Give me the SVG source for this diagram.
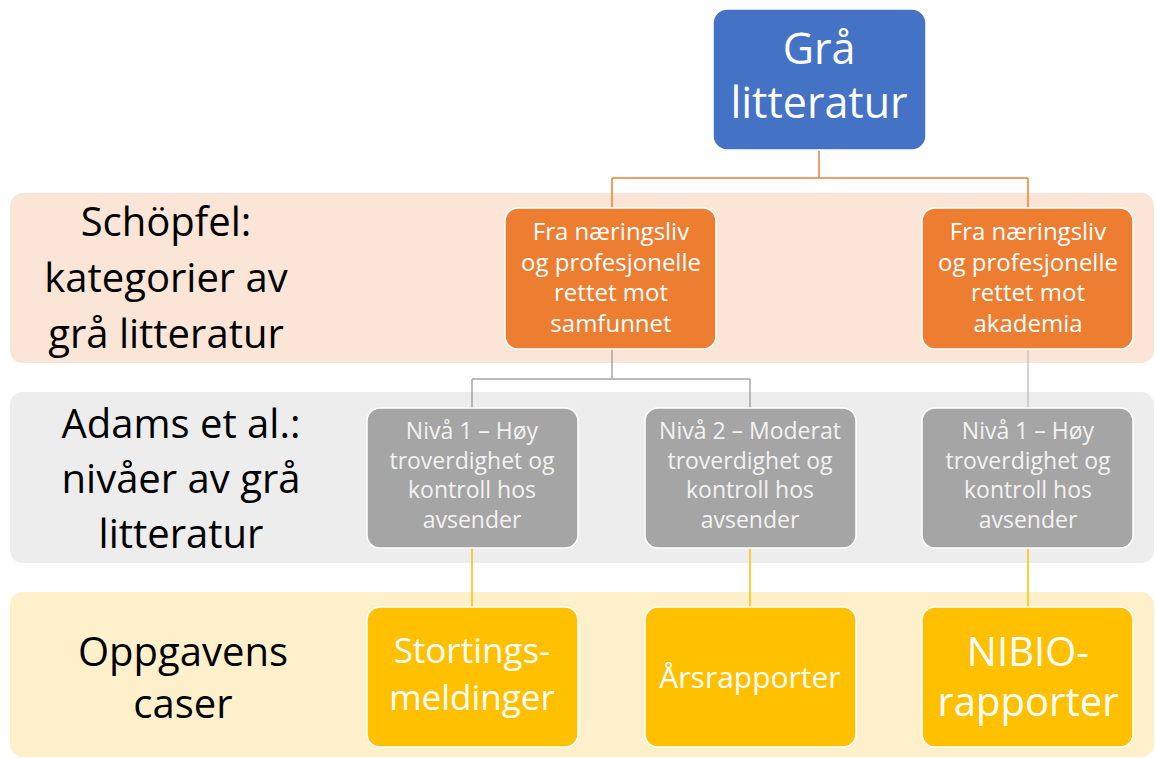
<svg xmlns="http://www.w3.org/2000/svg" width="1156" height="758" viewBox="0 0 1156 758">
<style>
.band-t{font-family:"Open Sans","Noto Sans","Liberation Sans",sans-serif;font-size:40px;fill:#000;text-anchor:middle}
.bx{stroke:#fff;stroke-width:1.5}
.t{font-family:"Open Sans","Noto Sans","Liberation Sans",sans-serif;text-anchor:middle}
.w{fill:#fff}
.lg{fill:#F2F2F2}
.conn{fill:none;stroke-width:1.5}
</style>
<rect width="1156" height="758" fill="#fff"/>
<g id="band-schopfel">
<rect x="10" y="193" width="1144" height="170" rx="13" fill="#FBE5D6"/>
<text class="band-t" x="166" y="236">Schöpfel:</text>
<text class="band-t" x="166" y="292">kategorier av</text>
<text class="band-t" x="166" y="348">grå litteratur</text>
</g>
<g id="band-adams">
<rect x="10" y="392" width="1144" height="171" rx="13" fill="#EDEDED"/>
<text class="band-t" x="181" y="438">Adams et al.:</text>
<text class="band-t" x="181" y="493">nivåer av grå</text>
<text class="band-t" x="181" y="548">litteratur</text>
</g>
<g id="band-caser">
<rect x="10" y="592" width="1144" height="165" rx="13" fill="#FFF0CC"/>
<text class="band-t" x="183" y="666">Oppgavens</text>
<text class="band-t" x="183" y="718">caser</text>
</g>
<g id="connectors">
<path class="conn" stroke="#ED7D31" d="M819 150V178M612 178H1028M612 178V208M1028 178V208"/>
<path class="conn" stroke="#A5A5A5" d="M612 349V379M472 379H750M472 379V408M750 379V408"/>
<path class="conn" stroke="#C4C4C4" stroke-width="2" d="M1028 349V408"/>
<path class="conn" stroke="#FFC000" stroke-width="2" d="M472 548V607M750 548V607M1028 548V607"/>
</g>
<g id="gra-litteratur">
<rect class="bx" x="713" y="9" width="213" height="141" rx="14" fill="#4472C4"/>
<text class="t w" x="819" y="64" font-size="43">Grå</text>
<text class="t w" x="819" y="118" font-size="43">litteratur</text>
</g>
<g id="samfunnet">
<rect class="bx" x="505" y="208" width="211" height="141" rx="13" fill="#ED7D31"/>
<text class="t w" font-size="24" x="611"><tspan x="611" y="240">Fra næringsliv</tspan><tspan x="611" y="270.5">og profesjonelle</tspan><tspan x="611" y="301">rettet mot</tspan><tspan x="611" y="331.5">samfunnet</tspan></text>
</g>
<g id="akademia">
<rect class="bx" x="922" y="208" width="211" height="141" rx="13" fill="#ED7D31"/>
<text class="t w" font-size="24" x="1028"><tspan x="1028" y="240">Fra næringsliv</tspan><tspan x="1028" y="270.5">og profesjonelle</tspan><tspan x="1028" y="301">rettet mot</tspan><tspan x="1028" y="331.5">akademia</tspan></text>
</g>
<g id="niva1-left">
<rect class="bx" x="367" y="408" width="211" height="140" rx="13" fill="#A5A5A5"/>
<text class="t lg" font-size="23" x="472"><tspan x="472" y="439">Nivå 1 – Høy</tspan><tspan x="472" y="468.5">troverdighet og</tspan><tspan x="472" y="498">kontroll hos</tspan><tspan x="472" y="527.5">avsender</tspan></text>
</g>
<g id="niva2">
<rect class="bx" x="645" y="408" width="211" height="140" rx="13" fill="#A5A5A5"/>
<text class="t lg" font-size="23" x="750"><tspan x="750" y="439">Nivå 2 – Moderat</tspan><tspan x="750" y="468.5">troverdighet og</tspan><tspan x="750" y="498">kontroll hos</tspan><tspan x="750" y="527.5">avsender</tspan></text>
</g>
<g id="niva1-right">
<rect class="bx" x="922" y="408" width="211" height="140" rx="13" fill="#A5A5A5"/>
<text class="t lg" font-size="23" x="1028"><tspan x="1028" y="439">Nivå 1 – Høy</tspan><tspan x="1028" y="468.5">troverdighet og</tspan><tspan x="1028" y="498">kontroll hos</tspan><tspan x="1028" y="527.5">avsender</tspan></text>
</g>
<g id="stortingsmeldinger">
<rect class="bx" x="367" y="607" width="211" height="140" rx="13" fill="#FFC000"/>
<text class="t w" font-size="35" x="472"><tspan x="472" y="663">Stortings-</tspan><tspan x="472" y="710">meldinger</tspan></text>
</g>
<g id="arsrapporter">
<rect class="bx" x="645" y="607" width="211" height="140" rx="13" fill="#FFC000"/>
<text class="t w" font-size="30" x="750" y="688">Årsrapporter</text>
</g>
<g id="nibio">
<rect class="bx" x="922" y="607" width="211" height="140" rx="13" fill="#FFC000"/>
<text class="t w" font-size="40" x="1028"><tspan x="1028" y="666">NIBIO-</tspan><tspan x="1028" y="716">rapporter</tspan></text>
</g>
</svg>
